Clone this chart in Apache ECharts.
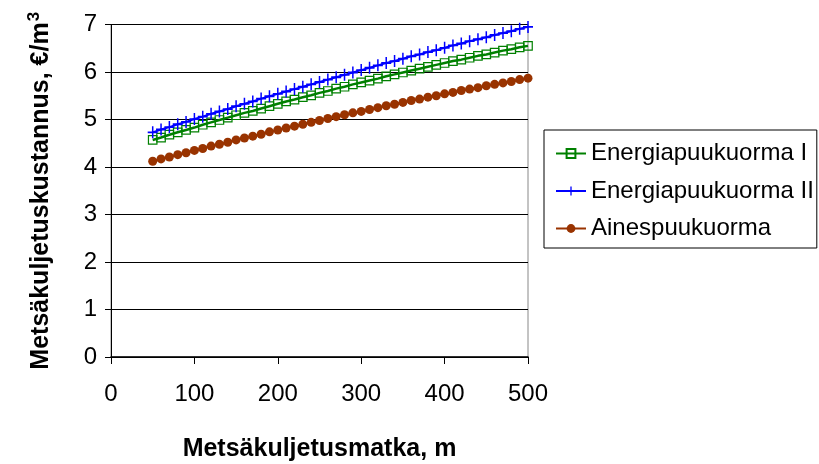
<!DOCTYPE html>
<html>
<head>
<meta charset="utf-8">
<script src="https://cdn.jsdelivr.net/npm/echarts@6/dist/echarts.min.js"></script>
<style>
  html, body { margin: 0; padding: 0; background: #fff; }
  #chart { width: 819px; height: 464px; }
</style>
</head>
<body>
<div id="chart"></div>
<script>
// Forwarding distance (m)
const distances = [50, 60, 70, 80, 90, 100, 110, 120, 130, 140, 150, 160, 170, 180, 190, 200,
  210, 220, 230, 240, 250, 260, 270, 280, 290, 300, 310, 320, 330, 340, 350, 360, 370, 380,
  390, 400, 410, 420, 430, 440, 450, 460, 470, 480, 490, 500];

// Forwarding cost, €/m³
const energiapuuI = [4.57, 4.62, 4.68, 4.73, 4.78, 4.83, 4.89, 4.94, 4.99, 5.04, 5.09, 5.14,
  5.18, 5.23, 5.28, 5.33, 5.38, 5.42, 5.47, 5.51, 5.56, 5.60, 5.65, 5.69, 5.74, 5.78, 5.82,
  5.86, 5.91, 5.95, 5.99, 6.03, 6.07, 6.11, 6.15, 6.19, 6.23, 6.26, 6.30, 6.34, 6.37, 6.41,
  6.45, 6.48, 6.52, 6.55];
const energiapuuII = [4.73, 4.79, 4.84, 4.90, 4.95, 5.01, 5.06, 5.12, 5.17, 5.22, 5.28, 5.33,
  5.38, 5.44, 5.49, 5.54, 5.59, 5.64, 5.69, 5.74, 5.79, 5.84, 5.89, 5.94, 5.99, 6.04, 6.09,
  6.14, 6.19, 6.23, 6.28, 6.33, 6.37, 6.42, 6.46, 6.51, 6.56, 6.60, 6.65, 6.69, 6.73, 6.78,
  6.82, 6.86, 6.91, 6.95];
const ainespuu = [4.12, 4.17, 4.21, 4.26, 4.30, 4.35, 4.39, 4.44, 4.48, 4.52, 4.57, 4.61,
  4.65, 4.69, 4.74, 4.78, 4.82, 4.86, 4.90, 4.94, 4.98, 5.02, 5.06, 5.10, 5.14, 5.17, 5.21,
  5.25, 5.29, 5.32, 5.36, 5.40, 5.43, 5.47, 5.50, 5.54, 5.57, 5.61, 5.64, 5.67, 5.71, 5.74,
  5.77, 5.80, 5.84, 5.87];

const seriesNames = ['Energiapuukuorma I', 'Energiapuukuorma II', 'Ainespuukuorma'];
const xTitle = 'Metsäkuljetusmatka, m';
const yTitleMain = 'Metsäkuljetuskustannus, €/m';
const yTitleSup = '3';

const pair = (ys) => distances.map((d, i) => [d, ys[i]]);

const FONT = '"Liberation Sans", Arial, sans-serif';
const plusPath = 'path://M8.5,0h3v8.5h8.5v3h-8.5v8.5h-3v-8.5h-8.5v-3h8.5z';

const chart = echarts.init(document.getElementById('chart'), null, { renderer: 'canvas' });

chart.setOption({
  backgroundColor: '#fff',
  animation: false,
  grid: {
    left: 111, right: 291, top: 24.5, bottom: 107,
    outerBoundsMode: 'none',
    show: true, borderColor: '#888', borderWidth: 1, backgroundColor: 'transparent'
  },
  legend: {
    orient: 'vertical',
    left: 544, top: 130,
    padding: [10, 3, 6, 11],
    itemGap: 10.5,
    itemWidth: 30,
    itemHeight: 11,
    backgroundColor: '#fff',
    borderColor: '#000',
    borderWidth: 1,
    borderRadius: 0,
    textStyle: { fontFamily: FONT, fontSize: 24, color: '#000', lineHeight: 27 },
    data: seriesNames
  },
  xAxis: {
    type: 'value',
    min: 0, max: 500, interval: 100,
    name: xTitle,
    nameLocation: 'middle',
    nameGap: 80,
    nameTextStyle: { fontFamily: FONT, fontSize: 25, fontWeight: 'bold', color: '#000' },
    axisLine: { show: true, lineStyle: { color: '#000', width: 1.5 } },
    axisTick: { show: true, inside: false, length: 7, lineStyle: { color: '#000' } },
    axisLabel: { fontFamily: FONT, fontSize: 24, color: '#000', margin: 25 },
    splitLine: { show: false }
  },
  yAxis: {
    type: 'value',
    min: 0, max: 7, interval: 1,
    name: '{t|' + yTitleMain + '}{s|' + yTitleSup + '}',
    nameLocation: 'middle',
    nameGap: 55,
    nameTextStyle: {
      fontFamily: FONT, fontSize: 25, fontWeight: 'bold', color: '#000',
      rich: {
        t: { fontFamily: FONT, fontSize: 25, fontWeight: 'bold', color: '#000', lineHeight: 30 },
        s: { fontFamily: FONT, fontSize: 17, fontWeight: 'bold', color: '#000',
             verticalAlign: 'top', lineHeight: 17, padding: [0, 0, 0, 1] }
      }
    },
    axisLine: { show: true, lineStyle: { color: '#000', width: 1 } },
    axisTick: { show: true, inside: false, length: 6, lineStyle: { color: '#000' } },
    axisLabel: { fontFamily: FONT, fontSize: 24, color: '#000', margin: 14, padding: [4, 0, 0, 0] },
    splitLine: { show: true, lineStyle: { color: '#000', width: 1 } }
  },
  series: [
    {
      name: seriesNames[0],
      type: 'line',
      data: pair(energiapuuI),
      symbol: 'rect',
      symbolSize: 8.5,
      lineStyle: { color: '#008000', width: 2.5 },
      itemStyle: { color: 'rgba(255,255,255,0)', borderColor: '#008000', borderWidth: 1.2 },
      z: 3
    },
    {
      name: seriesNames[1],
      type: 'line',
      data: pair(energiapuuII),
      symbol: plusPath,
      symbolSize: [10, 12],
      lineStyle: { color: '#0000ff', width: 2 },
      itemStyle: { color: '#0000ff' },
      z: 4
    },
    {
      name: seriesNames[2],
      type: 'line',
      data: pair(ainespuu),
      symbol: 'circle',
      symbolSize: 9,
      lineStyle: { color: '#993300', width: 2.5 },
      itemStyle: { color: '#993300' },
      z: 2
    }
  ]
});
</script>
</body>
</html>
